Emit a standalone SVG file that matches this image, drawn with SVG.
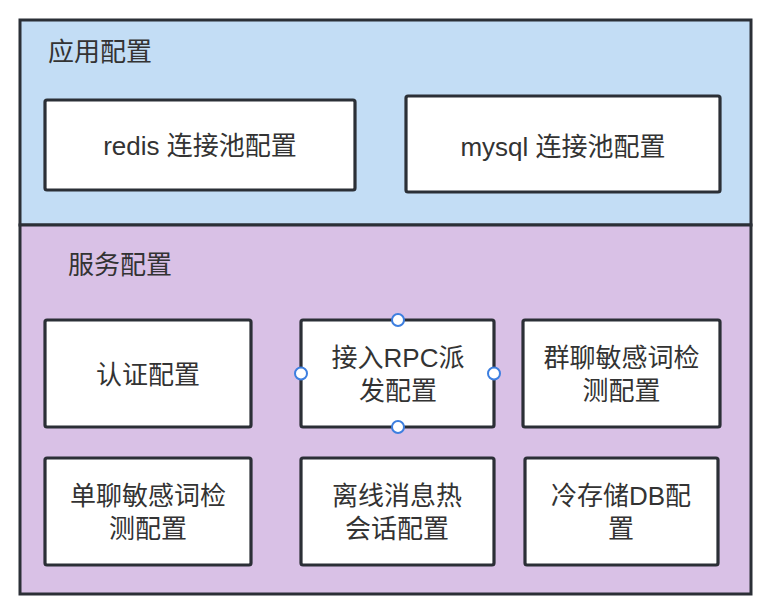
<svg xmlns="http://www.w3.org/2000/svg" width="776" height="614" viewBox="0 0 776 614">
<style>
.panel{stroke:#2b2f36;stroke-width:3}
.box{fill:#ffffff;stroke:#2b2f36;stroke-width:3.2}
.t{font-family:"Liberation Sans","Noto Sans CJK SC",sans-serif;font-size:26px;fill:#333333;text-anchor:middle}
.title{font-family:"Liberation Sans","Noto Sans CJK SC",sans-serif;font-size:26px;fill:#333333}
.h{fill:#ffffff;stroke:#3d7fe0;stroke-width:2}
</style>
<rect width="776" height="614" fill="#ffffff"/>
<g id="app-config">
<rect class="panel" x="20" y="20" width="731" height="205" fill="#c3ddf5"/>
<text class="title" x="48" y="61">应用配置</text>
</g>
<g id="service-config">
<rect class="panel" x="20" y="225" width="731" height="369" fill="#d9c1e6"/>
<text class="title" x="68" y="274">服务配置</text>
</g>
<g id="redis">
<rect class="box" x="45" y="100" width="310" height="90" rx="2"/>
<text class="t" x="200" y="155">redis 连接池配置</text>
</g>
<g id="mysql">
<rect class="box" x="406" y="96" width="314" height="96" rx="2"/>
<text class="t" x="563" y="156">mysql 连接池配置</text>
</g>
<g id="auth">
<rect class="box" x="45" y="320" width="206" height="107" rx="2"/>
<text class="t" x="148" y="384">认证配置</text>
</g>
<g id="rpc">
<rect class="box" x="301" y="320" width="193" height="107" rx="2"/>
<text class="t" x="398" y="367">接入RPC派</text>
<text class="t" x="398" y="400">发配置</text>
<circle class="h" cx="398" cy="320" r="6"/>
<circle class="h" cx="301" cy="373.5" r="6"/>
<circle class="h" cx="494" cy="373.5" r="6"/>
<circle class="h" cx="398" cy="427" r="6"/>
</g>
<g id="group-sensitive">
<rect class="box" x="523" y="320" width="197" height="107" rx="2"/>
<text class="t" x="621.5" y="367">群聊敏感词检</text>
<text class="t" x="621.5" y="400">测配置</text>
</g>
<g id="single-sensitive">
<rect class="box" x="45" y="458" width="206" height="107" rx="2"/>
<text class="t" x="148" y="505">单聊敏感词检</text>
<text class="t" x="148" y="538">测配置</text>
</g>
<g id="offline">
<rect class="box" x="301" y="458" width="193" height="107" rx="2"/>
<text class="t" x="397" y="505">离线消息热</text>
<text class="t" x="397" y="538">会话配置</text>
</g>
<g id="cold-db">
<rect class="box" x="525" y="458" width="193" height="107" rx="2"/>
<text class="t" x="621" y="505">冷存储DB配</text>
<text class="t" x="621" y="538">置</text>
</g>
<g id="connectors"></g>
</svg>
